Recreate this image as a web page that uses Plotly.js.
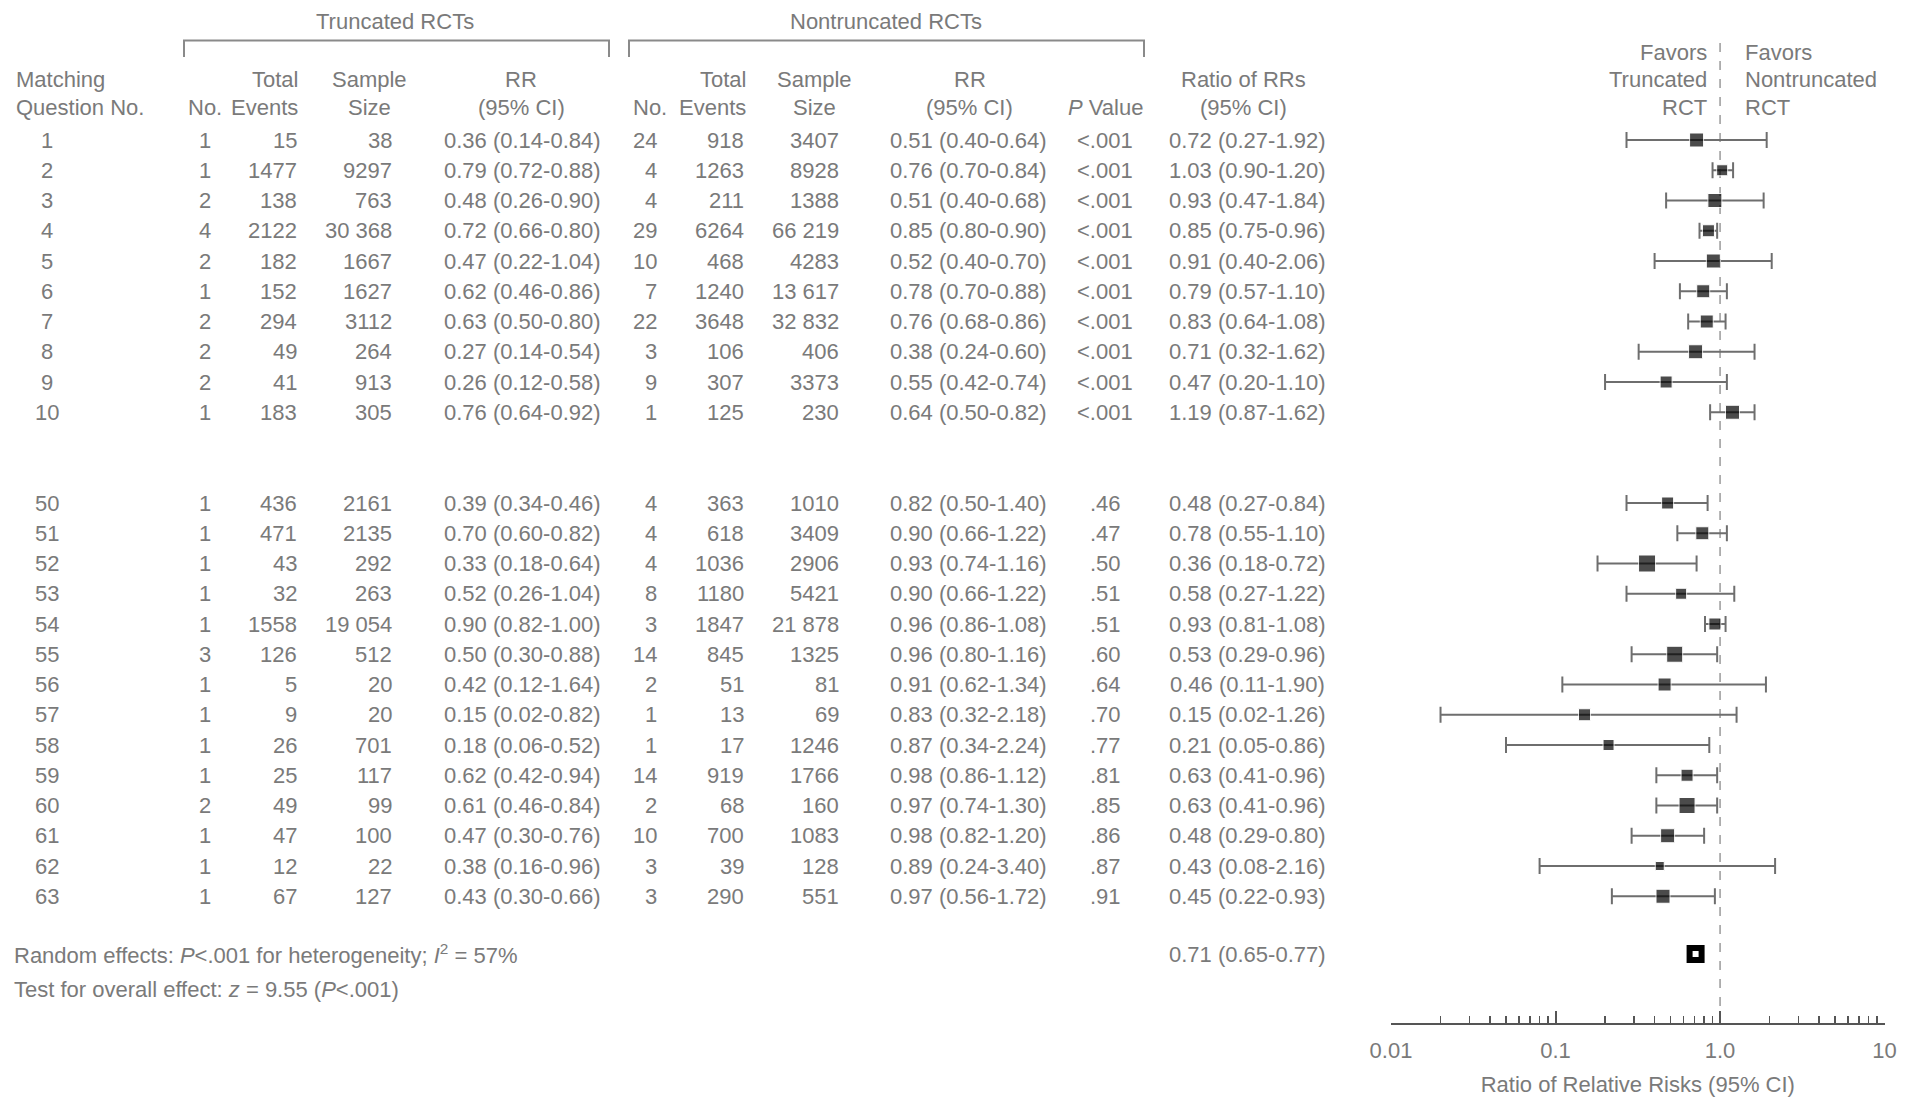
<!DOCTYPE html>
<html><head><meta charset="utf-8">
<script src="https://cdn.plot.ly/plotly-3.0.1.min.js"></script>
<style>html,body{margin:0;padding:0;background:#fff;} #chart{width:1925px;height:1097px;}</style>
</head><body><div id="chart"></div>
<script>
// ---------------- DATA ----------------
const questionNo   = [1,2,3,4,5,6,7,8,9,10,50,51,52,53,54,55,56,57,58,59,60,61,62,63];
const truncTrials  = [1,1,2,4,2,1,2,2,2,1, 1,1,1,1,1,3,1,1,1,1,2,1,1,1];
const truncEvents  = [15,1477,138,2122,182,152,294,49,41,183, 436,471,43,32,1558,126,5,9,26,25,49,47,12,67];
const truncSize    = [38,9297,763,30368,1667,1627,3112,264,913,305, 2161,2135,292,263,19054,512,20,20,701,117,99,100,22,127];
const truncRR      = [0.36,0.79,0.48,0.72,0.47,0.62,0.63,0.27,0.26,0.76, 0.39,0.70,0.33,0.52,0.90,0.50,0.42,0.15,0.18,0.62,0.61,0.47,0.38,0.43];
const truncLo      = [0.14,0.72,0.26,0.66,0.22,0.46,0.50,0.14,0.12,0.64, 0.34,0.60,0.18,0.26,0.82,0.30,0.12,0.02,0.06,0.42,0.46,0.30,0.16,0.30];
const truncHi      = [0.84,0.88,0.90,0.80,1.04,0.86,0.80,0.54,0.58,0.92, 0.46,0.82,0.64,1.04,1.00,0.88,1.64,0.82,0.52,0.94,0.84,0.76,0.96,0.66];
const nonTrials    = [24,4,4,29,10,7,22,3,9,1, 4,4,4,8,3,14,2,1,1,14,2,10,3,3];
const nonEvents    = [918,1263,211,6264,468,1240,3648,106,307,125, 363,618,1036,1180,1847,845,51,13,17,919,68,700,39,290];
const nonSize      = [3407,8928,1388,66219,4283,13617,32832,406,3373,230, 1010,3409,2906,5421,21878,1325,81,69,1246,1766,160,1083,128,551];
const nonRR        = [0.51,0.76,0.51,0.85,0.52,0.78,0.76,0.38,0.55,0.64, 0.82,0.90,0.93,0.90,0.96,0.96,0.91,0.83,0.87,0.98,0.97,0.98,0.89,0.97];
const nonLo        = [0.40,0.70,0.40,0.80,0.40,0.70,0.68,0.24,0.42,0.50, 0.50,0.66,0.74,0.66,0.86,0.80,0.62,0.32,0.34,0.86,0.74,0.82,0.24,0.56];
const nonHi        = [0.64,0.84,0.68,0.90,0.70,0.88,0.86,0.60,0.74,0.82, 1.40,1.22,1.16,1.22,1.08,1.16,1.34,2.18,2.24,1.12,1.30,1.20,3.40,1.72];
const pValues      = ['<.001','<.001','<.001','<.001','<.001','<.001','<.001','<.001','<.001','<.001',
                      '.46','.47','.50','.51','.51','.60','.64','.70','.77','.81','.85','.86','.87','.91'];
const ratioRR      = [0.72,1.03,0.93,0.85,0.91,0.79,0.83,0.71,0.47,1.19, 0.48,0.78,0.36,0.58,0.93,0.53,0.46,0.15,0.21,0.63,0.63,0.48,0.43,0.45];
const ratioLo      = [0.27,0.90,0.47,0.75,0.40,0.57,0.64,0.32,0.20,0.87, 0.27,0.55,0.18,0.27,0.81,0.29,0.11,0.02,0.05,0.41,0.41,0.29,0.08,0.22];
const ratioHi      = [1.92,1.20,1.84,0.96,2.06,1.10,1.08,1.62,1.10,1.62, 0.84,1.10,0.72,1.22,1.08,0.96,1.90,1.26,0.86,0.96,0.96,0.80,2.16,0.93];
const overallRatio = [0.71];
const overallLo    = [0.65];
const overallHi    = [0.77];
const axisTickVals = [0.01, 0.1, 1, 10];
const axisTickText = ['0.01', '0.1', '1.0', '10'];

// ---------------- STYLE / LAYOUT ----------------
const boxSizes = [14,11,14,12,14,13,13,14,12,14, 12,13,17,11,12,16,13,12,11,12,16,14,9,14];
const W = 1925, H = 1097;
const ROW0 = 140, PITCH = 30.25, AXIS_PX = 1022.7;
const FONT = 'Liberation Sans, Arial, Helvetica, sans-serif';
const TXT = '#7a7a7a';
const FS = 22;
const k = py => (py - ROW0) / PITCH;          // pixel row -> y units
const rowK = i => (i < 10 ? i : i + 2);        // gap between question 10 and 50
const esc = s => String(s).replace(/</g, '&lt;');
const fmtN = n => n >= 10000 ? String(n).replace(/(\d+)(\d{3})$/, '$1 $2') : String(n);
const ci = (e, l, h) => e.toFixed(2) + ' (' + l.toFixed(2) + '-' + h.toFixed(2) + ')';

const ann = [];
function txt(text, xpx, ypx, anchor, extra) {
  ann.push(Object.assign({text: text, xref: 'paper', yref: 'y', x: xpx / W, y: k(ypx),
    xanchor: anchor, yanchor: 'middle', showarrow: false,
    font: {family: FONT, size: FS, color: TXT}}, extra || {}));
}

// headers
txt('Truncated RCTs', 395, 21, 'center');
txt('Nontruncated RCTs', 886, 21, 'center');
const H1 = 79, H2 = 107;
txt('Matching', 14, H1, 'left');
txt('Question No.', 14, H2, 'left');
txt('No.', 205, H2, 'center');
txt('Total', 300, H1, 'right'); txt('Events', 300, H2, 'right');
txt('Sample', 369, H1, 'center'); txt('Size', 369, H2, 'center');
txt('RR', 521, H1, 'center'); txt('(95% CI)', 521, H2, 'center');
txt('No.', 650, H2, 'center');
txt('Total', 748, H1, 'right'); txt('Events', 748, H2, 'right');
txt('Sample', 814, H1, 'center'); txt('Size', 814, H2, 'center');
txt('RR', 970, H1, 'center'); txt('(95% CI)', 970, H2, 'center');
txt('<i>P</i> Value', 1105, H2, 'center');
txt('Ratio of RRs', 1243, H1, 'center'); txt('(95% CI)', 1243, H2, 'center');
txt('Favors', 1709, 52, 'right'); txt('Truncated', 1709, H1, 'right'); txt('RCT', 1709, H2, 'right');
txt('Favors', 1743, 52, 'left'); txt('Nontruncated', 1743, H1, 'left'); txt('RCT', 1743, H2, 'left');

// table body
const cols = [
  {x: 47,   a: 'center', f: i => String(questionNo[i])},
  {x: 205,  a: 'center', f: i => String(truncTrials[i])},
  {x: 299,  a: 'right',  f: i => fmtN(truncEvents[i])},
  {x: 394,  a: 'right',  f: i => fmtN(truncSize[i])},
  {x: 522,  a: 'center', f: i => ci(truncRR[i], truncLo[i], truncHi[i])},
  {x: 659,  a: 'right',  f: i => String(nonTrials[i])},
  {x: 746,  a: 'right',  f: i => fmtN(nonEvents[i])},
  {x: 841,  a: 'right',  f: i => fmtN(nonSize[i])},
  {x: 968,  a: 'center', f: i => ci(nonRR[i], nonLo[i], nonHi[i])},
  {x: 1105, a: 'center', f: i => esc(pValues[i])},
  {x: 1247, a: 'center', f: i => ci(ratioRR[i], ratioLo[i], ratioHi[i])}
];
questionNo.forEach((q, i) => {
  cols.forEach(c => {
    ann.push({text: c.f(i), xref: 'paper', yref: 'y', x: c.x / W, y: rowK(i),
      xanchor: c.a, yanchor: 'middle', showarrow: false,
      font: {family: FONT, size: FS, color: TXT}});
  });
});
const overallK = k(954);
txt('Random effects: <i>P</i>&lt;.001 for heterogeneity; <i>I</i><sup>2</sup> = 57%', 12, 954, 'left');
txt('Test for overall effect: <i>z</i> = 9.55 (<i>P</i>&lt;.001)', 12, 989, 'left');
ann.push({text: ci(overallRatio[0], overallLo[0], overallHi[0]), xref: 'paper', yref: 'y', x: 1247 / W, y: overallK,
  xanchor: 'center', yanchor: 'middle', showarrow: false, font: {family: FONT, size: FS, color: TXT}});

const yRange = [k(AXIS_PX), k(0)];
const shapes = [
  // brackets
  {type: 'path', xref: 'paper', yref: 'y', path: bracket(184, 609), line: {color: '#8a8a8a', width: 2}},
  {type: 'path', xref: 'paper', yref: 'y', path: bracket(629, 1144), line: {color: '#8a8a8a', width: 2}},
  // null line
  {type: 'line', xref: 'x', yref: 'y', x0: 1, x1: 1, y0: k(43), y1: yRange[0], layer: 'below',
   line: {color: '#9a9a9a', width: 1.5, dash: 'dash'}}
];
function bracket(x0, x1) {
  const a = x0 / W, b = x1 / W, top = k(40.5), bot = k(57);
  return `M${a},${bot} L${a},${top} L${b},${top} L${b},${bot}`;
}

const minorVals = [];
[0.01, 0.1, 1].forEach(d => { for (let m = 2; m <= 9; m++) minorVals.push(+(d * m).toPrecision(3)); });

const traces = [
  {type: 'scatter', mode: 'markers', x: ratioRR, y: questionNo.map((q, i) => rowK(i)),
   error_x: {type: 'data', symmetric: false,
     array: ratioRR.map((v, i) => ratioHi[i] - v), arrayminus: ratioRR.map((v, i) => v - ratioLo[i]),
     color: '#6e6e6e', thickness: 2, width: 8},
   marker: {symbol: 'square', size: boxSizes, color: '#000000'}, hoverinfo: 'skip', showlegend: false},
  {type: 'scatter', mode: 'markers', x: overallRatio, y: [overallK],
   error_x: {type: 'data', symmetric: false, array: [overallHi[0] - overallRatio[0]],
     arrayminus: [overallRatio[0] - overallLo[0]], color: '#000', thickness: 2, width: 0},
   marker: {symbol: 'square', size: 12, color: '#ffffff', line: {color: '#000', width: 6}},
   hoverinfo: 'skip', showlegend: false}
];

const layout = {
  width: W, height: H, margin: {l: 0, r: 0, t: 0, b: 0, pad: 0},
  paper_bgcolor: '#fff', plot_bgcolor: '#fff', showlegend: false,
  xaxis: {type: 'log', range: [-2, 1], domain: [1391 / W, 1884.6 / W], anchor: 'y',
    showline: true, linecolor: '#555', linewidth: 2, showgrid: false, zeroline: false,
    tickmode: 'array', tickvals: axisTickVals, ticktext: axisTickText,
    ticks: 'inside', ticklen: 12, tickwidth: 2, tickcolor: '#555', ticklabelstandoff: 7,
    minor: {tickmode: 'array', tickvals: minorVals, ticks: 'inside', ticklen: 7, tickwidth: 1.5, tickcolor: '#555', showgrid: false},
    tickfont: {family: FONT, size: FS, color: TXT},
    title: {text: 'Ratio of Relative Risks (95% CI)', font: {family: FONT, size: FS, color: TXT}, standoff: 15}},
  yaxis: {range: yRange, domain: [1 - AXIS_PX / H, 1], visible: false, showgrid: false, zeroline: false, fixedrange: true},
  annotations: ann, shapes: shapes
};

Plotly.newPlot('chart', traces, layout, {displayModeBar: false, staticPlot: true});
</script>
</body></html>
